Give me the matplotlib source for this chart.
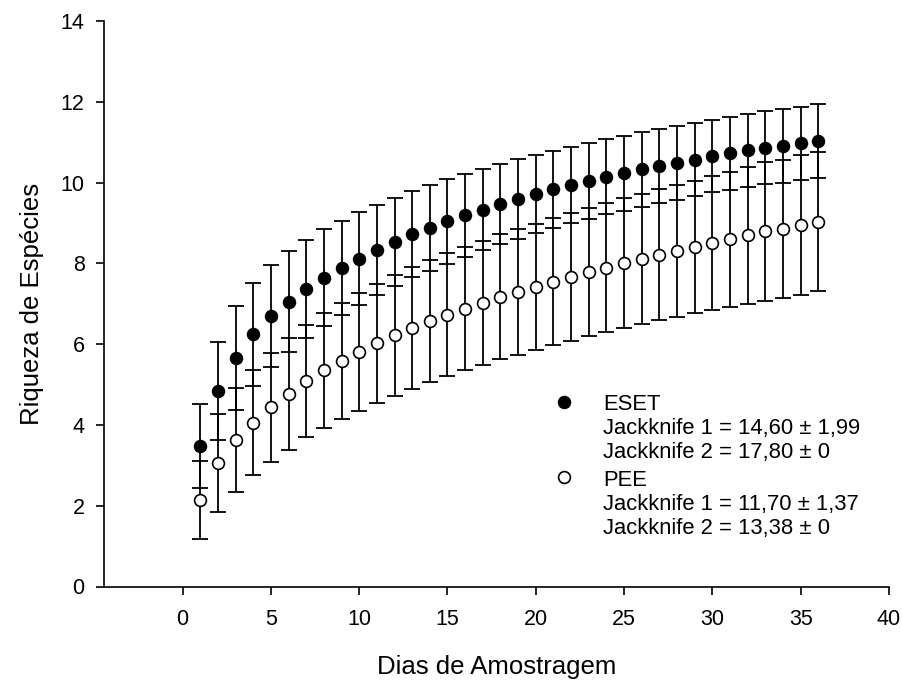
import matplotlib
matplotlib.use("Agg")
import matplotlib.pyplot as plt
import numpy as np

plt.rcParams['font.family'] = ['Liberation Sans', 'DejaVu Sans']

# Species accumulation per sampling day (mean +/- sd)
days = np.arange(1, 37)

eset_mean = [3.48, 4.84, 5.66, 6.24, 6.70, 7.05, 7.37, 7.64, 7.89, 8.12, 8.33, 8.53,
             8.72, 8.88, 9.04, 9.19, 9.33, 9.47, 9.59, 9.72, 9.83, 9.94, 10.05, 10.14,
             10.23, 10.33, 10.41, 10.49, 10.57, 10.66, 10.72, 10.80, 10.86, 10.91, 10.97, 11.03]
eset_sd = [1.03, 1.21, 1.28, 1.28, 1.26, 1.25, 1.22, 1.20, 1.16, 1.14, 1.12, 1.09,
           1.07, 1.06, 1.05, 1.03, 1.00, 1.00, 0.99, 0.97, 0.96, 0.95, 0.94, 0.93,
           0.93, 0.93, 0.91, 0.91, 0.91, 0.90, 0.91, 0.90, 0.90, 0.91, 0.91, 0.92]

pee_mean = [2.14, 3.06, 3.63, 4.06, 4.44, 4.77, 5.08, 5.35, 5.59, 5.81, 6.02, 6.22,
            6.40, 6.57, 6.73, 6.88, 7.02, 7.17, 7.30, 7.42, 7.55, 7.66, 7.78, 7.89,
            8.01, 8.11, 8.21, 8.31, 8.40, 8.50, 8.60, 8.69, 8.79, 8.85, 8.95, 9.03]
pee_sd = [0.96, 1.21, 1.28, 1.31, 1.35, 1.38, 1.39, 1.43, 1.44, 1.46, 1.47, 1.50,
          1.50, 1.51, 1.52, 1.52, 1.53, 1.55, 1.56, 1.56, 1.57, 1.58, 1.58, 1.60,
          1.61, 1.61, 1.62, 1.64, 1.64, 1.66, 1.67, 1.69, 1.72, 1.70, 1.73, 1.72]

legend_lines = [
    ("ESET", "Jackknife 1 = 14,60 \u00b1 1,99", "Jackknife 2 = 17,80 \u00b1 0"),
    ("PEE", "Jackknife 1 = 11,70 \u00b1 1,37", "Jackknife 2 = 13,38 \u00b1 0"),
]

fig = plt.figure(figsize=(9.03, 6.8), dpi=100)
ax = fig.add_axes([104 / 903, (680 - 586.5) / 680, 785 / 903, 565.5 / 680])

err_kw = dict(fmt='none', ecolor='black', elinewidth=1.3, capsize=6, capthick=1.3, zorder=2)
ax.errorbar(days, eset_mean, yerr=eset_sd, **err_kw)
ax.errorbar(days, pee_mean, yerr=pee_sd, **err_kw)

ax.plot(days, eset_mean, 'o', ms=8.5, mfc='black', mec='black', mew=1.2, zorder=3)
ax.plot(days, pee_mean, 'o', ms=8.5, mfc='white', mec='black', mew=1.2, zorder=3)

ax.set_xlim(-4.45, 40)
ax.set_ylim(0, 14)
ax.set_xticks(np.arange(0, 41, 5))
ax.set_yticks(np.arange(0, 15, 2))

for side in ['top', 'right']:
    ax.spines[side].set_visible(False)
for side in ['left', 'bottom']:
    ax.spines[side].set_linewidth(1.2)

ax.tick_params(axis='both', direction='out', length=6, width=1.2, labelsize=15.5)
ax.tick_params(axis='y', pad=8)
ax.tick_params(axis='x', pad=10)

ax.set_xlabel('Dias de Amostragem', fontsize=18.5, labelpad=18)
ax.set_ylabel('Riqueza de Esp\u00e9cies', fontsize=18.5, labelpad=12)

# Legend block drawn by hand
text_x = 0.636
baselines = [[0.3121, 0.2697, 0.2272], [0.1782, 0.1347, 0.0928]]
marker_y = [0.3268, 0.1931]
fills = ['black', 'white']
for lines, ys, my, fc in zip(legend_lines, baselines, marker_y, fills):
    ax.plot([0.586], [my], 'o', ms=8.5, mfc=fc, mec='black', mew=1.2,
            transform=ax.transAxes, clip_on=False)
    for s, y in zip(lines, ys):
        ax.text(text_x, y, s, transform=ax.transAxes, fontsize=15.8, va='baseline', ha='left')

fig.savefig('out.png', dpi=100)
